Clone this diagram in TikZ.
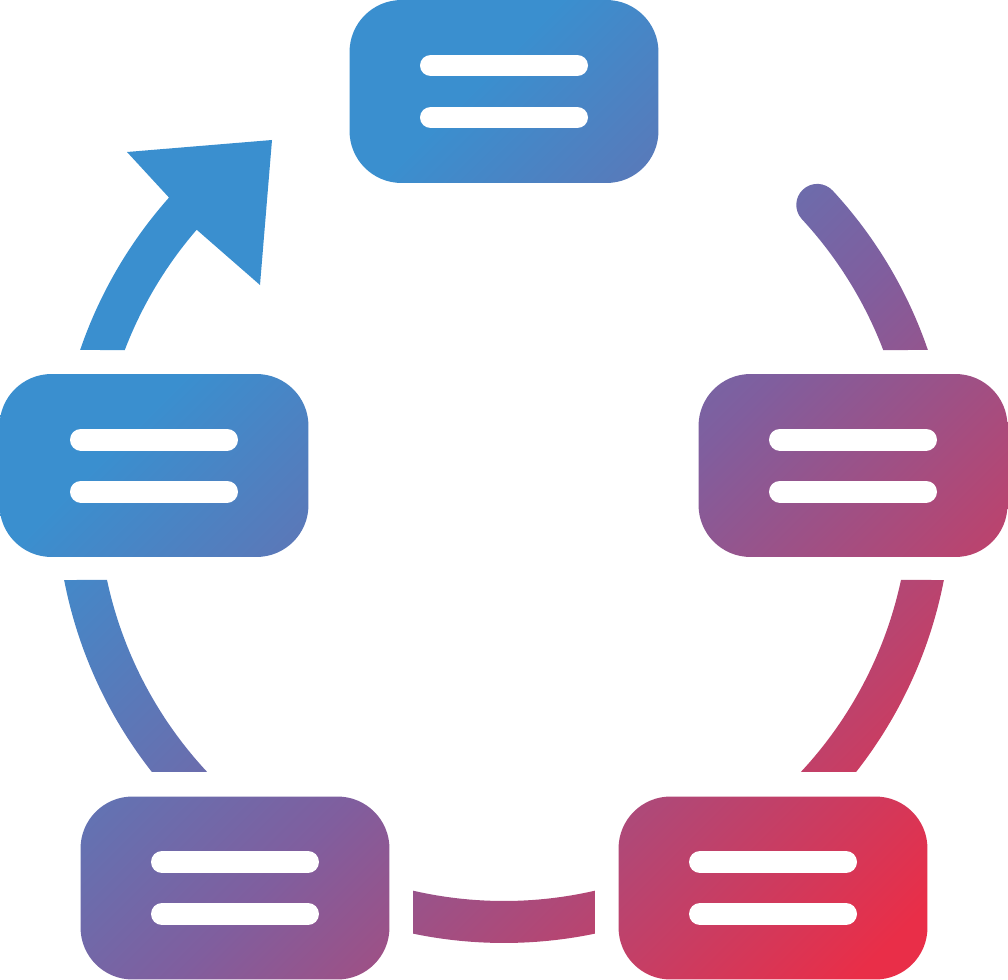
\documentclass[tikz,border=0pt]{standalone}
\usetikzlibrary{calc}
\definecolor{IconBlue}{RGB}{58,143,207}
\definecolor{IconPurple}{RGB}{128,94,158}
\definecolor{IconRed}{RGB}{233,46,72}
\pgfdeclarehorizontalshading{iconfade}{100bp}{color(0bp)=(IconBlue); color(34.5bp)=(IconBlue); color(55.7bp)=(IconPurple); color(80bp)=(IconRed); color(100bp)=(IconRed)}
\tikzset{
  iconfill/.style={path picture={\shade[shading=iconfade,shading angle=-45] (canvasNW) rectangle (canvasSE);}},
  card/.style={iconfill,rounded corners=1.04cm,minimum width=6.18cm,minimum height=3.66cm,inner sep=0pt},
  ring/.style={iconfill},
  slot/.style={draw=white,line width=0.44cm,line cap=round}
}
\begin{document}
\begin{tikzpicture}[x=0.02cm,y=-0.02cm]
  \useasboundingbox (0,0) rectangle (1008,980);
  \coordinate (canvasNW) at (0,0);
  \coordinate (canvasSE) at (1008,980);
  \coordinate (hub) at (504,495);
  % the five cards
  \node[card] (cardN) at (504,91.5) {};
  \node[card] (cardW) at (154,465.5) {};
  \node[card] (cardE) at (853,465.5) {};
  \node[card] (cardSW) at (235,888) {};
  \node[card] (cardSE) at (773,888) {};
  \foreach \c in {cardN,cardW,cardE,cardSW,cardSE}{
    \draw[slot] ([shift={(-73,-26)}]\c.center) -- ([shift={(73,-26)}]\c.center);
    \draw[slot] ([shift={(-73,26)}]\c.center) -- ([shift={(73,26)}]\c.center);
  }
  % ring pieces between the cards
  \path[ring] ([shift={(hub)}]200.92:406) arc[start angle=200.92,end angle=220.8,radius=406]
    -- (260,285) -- (272,140) -- (127,152) -- ([shift={(hub)}]221.6:448)
    arc[start angle=221.6,end angle=198.89,radius=448] -- cycle;
  \path[ring] ([shift={(hub)}]169.06:448) arc[start angle=169.06,end angle=141.81,radius=448]
    -- ([shift={(hub)}]136.98:406) arc[start angle=136.98,end angle=167.92,radius=406] -- cycle;
  \path[ring] ([shift={(hub)}]101.72:448) arc[start angle=101.72,end angle=78.28,radius=448]
    -- ([shift={(hub)}]77.05:406) arc[start angle=77.05,end angle=102.95,radius=406] -- cycle;
  \path[ring] ([shift={(hub)}]10.94:448) arc[start angle=10.94,end angle=38.19,radius=448]
    -- ([shift={(hub)}]43.02:406) arc[start angle=43.02,end angle=12.08,radius=406] -- cycle;
  \path[ring] ([shift={(hub)}]341.11:448) arc[start angle=341.11,end angle=317.2,radius=448]
    arc[start angle=317.2,end angle=137.2,radius=21]
    arc[start angle=317.2,end angle=339.08,radius=406] -- cycle;
\end{tikzpicture}
\end{document}
